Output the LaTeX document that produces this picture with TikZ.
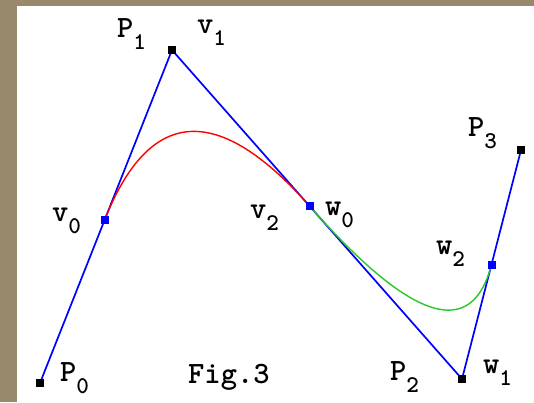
\documentclass[tikz,border=0pt]{standalone}
\usepackage{fontspec}
\usetikzlibrary{calc}
\definecolor{framebrown}{RGB}{152,136,108}
\definecolor{polyblue}{RGB}{0,0,255}
\definecolor{curvered}{RGB}{255,0,0}
\definecolor{curvegreen}{RGB}{40,200,40}
\newcommand\lsub[1]{\raisebox{-12pt}{\fontsize{24}{24}\selectfont #1}}

\begin{document}
\begin{tikzpicture}[x=1pt,y=-1pt,line cap=round,line join=round,
  lbl/.style={font=\ttfamily\bfseries\fontsize{31}{31}\selectfont,anchor=base west,inner sep=0pt},
  knot/.style={fill=black,inner sep=0pt,minimum size=8pt},
  midknot/.style={fill=polyblue,inner sep=0pt,minimum size=8pt}]
  \fill[framebrown] (0,0) rectangle (534,402);
  \fill[white] (17,6) rectangle (534,402);
  \useasboundingbox (0,0) rectangle (534,402);
  % control points
  \coordinate (P0) at (40,383);
  \coordinate (P1) at (172,50);
  \coordinate (P2) at (462,379);
  \coordinate (P3) at (521,150);
  \coordinate (v0) at ($(P0)!0.49!(P1)$);
  \coordinate (w0) at ($(P1)!0.475!(P2)$);
  \coordinate (w2) at ($(P2)!0.5!(P3)$);
  \draw[polyblue,line width=1.7pt] (P0) -- (P1) -- (P2) -- (P3);
  \draw[curvered,line width=1.4pt] (v0) .. controls ($(v0)!0.6667!(P1)$) and ($(w0)!0.6667!(P1)$) .. (w0);
  \draw[curvegreen,line width=1.4pt] (w0) .. controls ($(w0)!0.6667!(P2)$) and ($(w2)!0.6667!(P2)$) .. (w2);
  % markers
  \node[knot] (nP0) at (P0) {};
  \node[knot] (nP1) at (P1) {};
  \node[knot] (nP2) at (P2) {};
  \node[knot] (nP3) at (P3) {};
  \node[midknot] (nv0) at (v0) {};
  \node[midknot] (nw0) at (w0) {};
  \node[midknot] (nw2) at (w2) {};
  % labels
  \node[lbl] (tP0) at (60,381) {P\lsub{0}};
  \node[lbl] (tP1) at (117,37) {P\lsub{1}};
  \node[lbl] (tP2) at (390,380) {P\lsub{2}};
  \node[lbl] (tP3) at (468,136) {P\lsub{3}};
  \node[lbl] (tv0) at (52,221) {v\lsub{0}};
  \node[lbl] (tv1) at (197,33) {v\lsub{1}};
  \node[lbl] (tv2) at (250,218) {v\lsub{2}};
  \node[lbl] (tw0) at (325,215) {w\lsub{0}};
  \node[lbl] (tw1) at (483,373) {w\lsub{1}};
  \node[lbl] (tw2) at (436,254) {w\lsub{2}};
  \node[lbl] (tfig) at (188,383) {Fig.3};
\end{tikzpicture}
\end{document}
